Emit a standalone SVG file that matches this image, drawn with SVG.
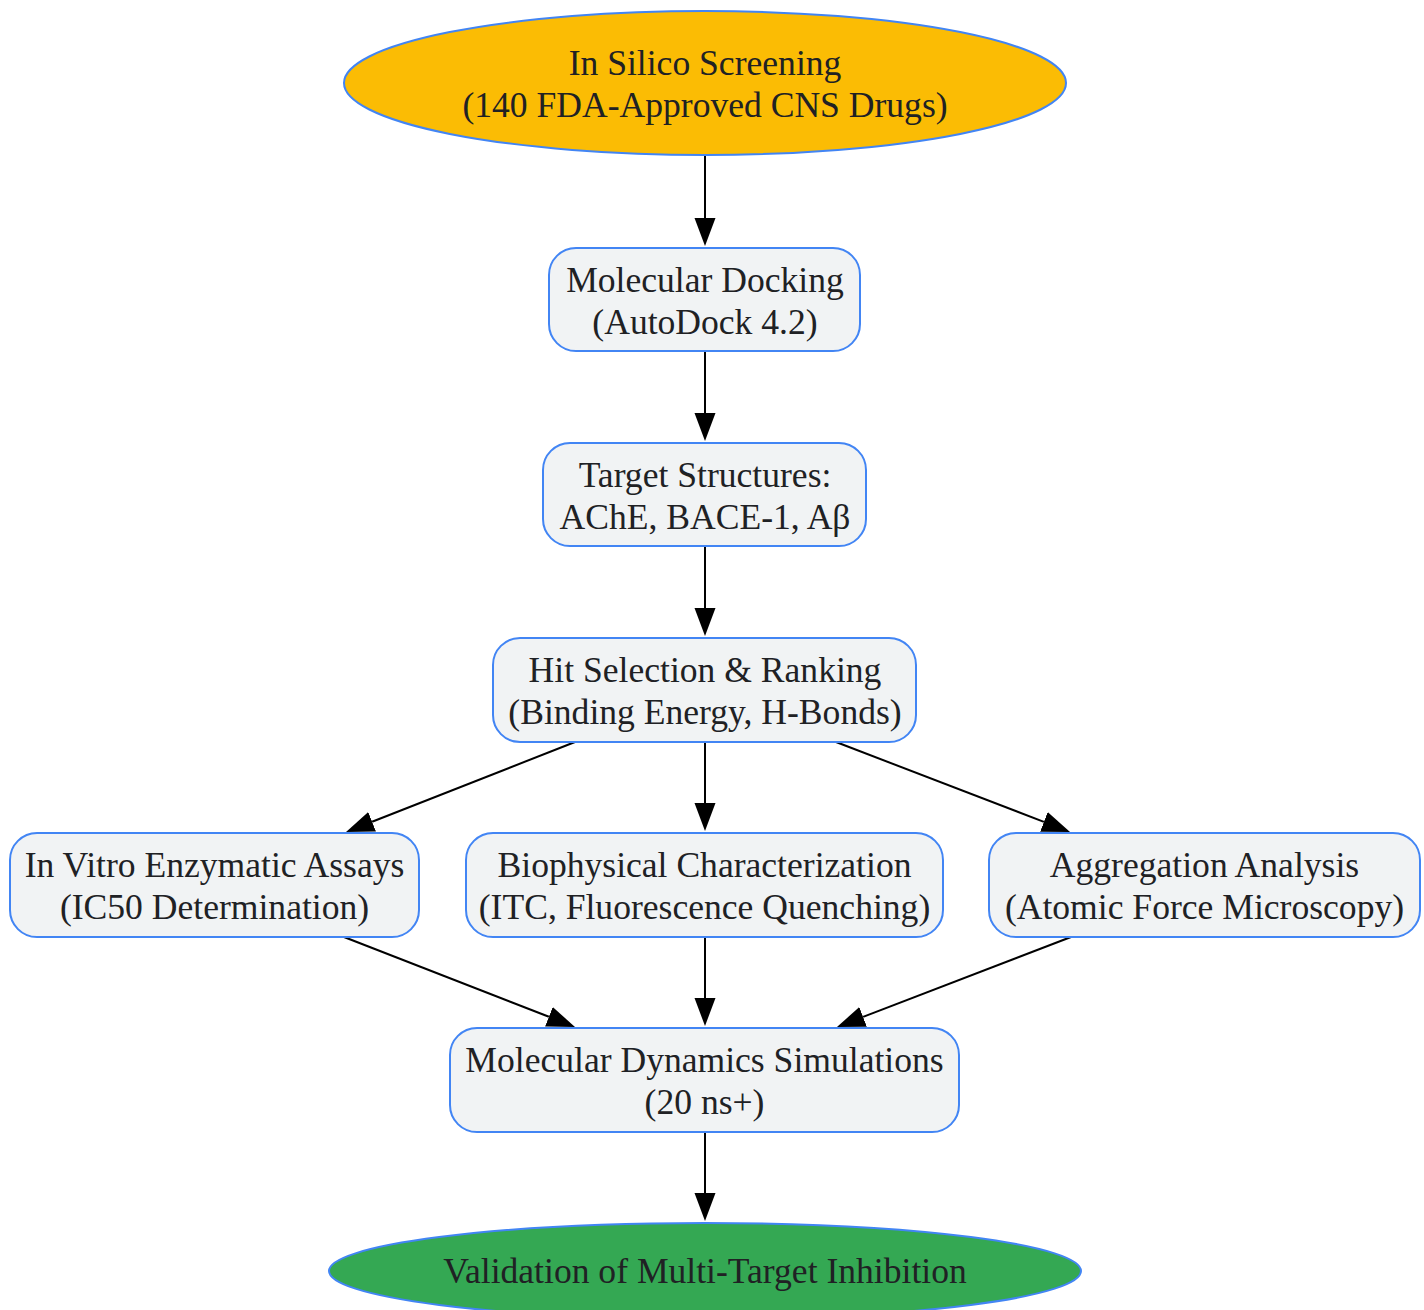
<svg xmlns="http://www.w3.org/2000/svg" width="1424" height="1310" viewBox="0 0 1424 1310">
<style>
.box{fill:#F1F3F4;stroke:#4285F4;stroke-width:2}
.t{font-family:"Liberation Serif","Times New Roman",serif;font-size:35.6px;fill:#202124;text-anchor:middle}
.e{stroke:#000;stroke-width:2;fill:none;marker-end:url(#ah)}
</style>
<defs>
<marker id="ah" markerUnits="userSpaceOnUse" markerWidth="29" markerHeight="22" viewBox="0 0 29 22" refX="0" refY="11" orient="auto">
<path d="M0,0.5 L28,11 L0,21.5 z" fill="#000"/>
</marker>
</defs>
<rect width="1424" height="1310" fill="#fff"/>
<g id="edges">
<line class="e" x1="705" y1="155" x2="705" y2="218"/>
<line class="e" x1="705" y1="351" x2="705" y2="413"/>
<line class="e" x1="705" y1="546" x2="705" y2="608"/>
<line class="e" x1="705" y1="742" x2="705" y2="803"/>
<line class="e" x1="705" y1="937" x2="705" y2="998"/>
<line class="e" x1="705" y1="1132" x2="705" y2="1193"/>
<line class="e" x1="575" y1="742" x2="372.1" y2="821.8"/>
<line class="e" x1="836" y1="742" x2="1043.9" y2="821.9"/>
<line class="e" x1="344" y1="937" x2="548.9" y2="1016.8"/>
<line class="e" x1="1071" y1="937" x2="863.1" y2="1016.9"/>
</g>
<g id="n_screen">
<ellipse cx="705" cy="83" rx="361" ry="72" fill="#FBBC04" stroke="#4285F4" stroke-width="2"/>
<text class="t" x="705" y="75">In Silico Screening</text>
<text class="t" x="705" y="117">(140 FDA-Approved CNS Drugs)</text>
</g>
<g id="n_dock">
<rect class="box" x="549" y="248" width="311" height="103" rx="27"/>
<text class="t" x="705" y="292">Molecular Docking</text>
<text class="t" x="705" y="334">(AutoDock 4.2)</text>
</g>
<g id="n_target">
<rect class="box" x="543" y="443" width="323" height="103" rx="27"/>
<text class="t" x="705" y="487">Target Structures:</text>
<text class="t" x="705" y="529">AChE, BACE-1, Aβ</text>
</g>
<g id="n_hit">
<rect class="box" x="493" y="638" width="423" height="104" rx="27"/>
<text class="t" x="705" y="682">Hit Selection &amp; Ranking</text>
<text class="t" x="705" y="724">(Binding Energy, H-Bonds)</text>
</g>
<g id="n_vitro">
<rect class="box" x="10" y="833" width="409" height="104" rx="27"/>
<text class="t" x="214.5" y="877">In Vitro Enzymatic Assays</text>
<text class="t" x="214.5" y="919">(IC50 Determination)</text>
</g>
<g id="n_bio">
<rect class="box" x="466" y="833" width="477" height="104" rx="27"/>
<text class="t" x="704.5" y="877">Biophysical Characterization</text>
<text class="t" x="704.5" y="919">(ITC, Fluorescence Quenching)</text>
</g>
<g id="n_agg">
<rect class="box" x="989" y="833" width="431" height="104" rx="27"/>
<text class="t" x="1204.5" y="877">Aggregation Analysis</text>
<text class="t" x="1204.5" y="919">(Atomic Force Microscopy)</text>
</g>
<g id="n_md">
<rect class="box" x="450" y="1028" width="509" height="104" rx="27"/>
<text class="t" x="704.5" y="1072">Molecular Dynamics Simulations</text>
<text class="t" x="704.5" y="1114">(20 ns+)</text>
</g>
<g id="n_valid">
<ellipse cx="705" cy="1271" rx="376" ry="48" fill="#34A853" stroke="#4285F4" stroke-width="2"/>
<text class="t" x="705" y="1283">Validation of Multi-Target Inhibition</text>
</g>
</svg>
